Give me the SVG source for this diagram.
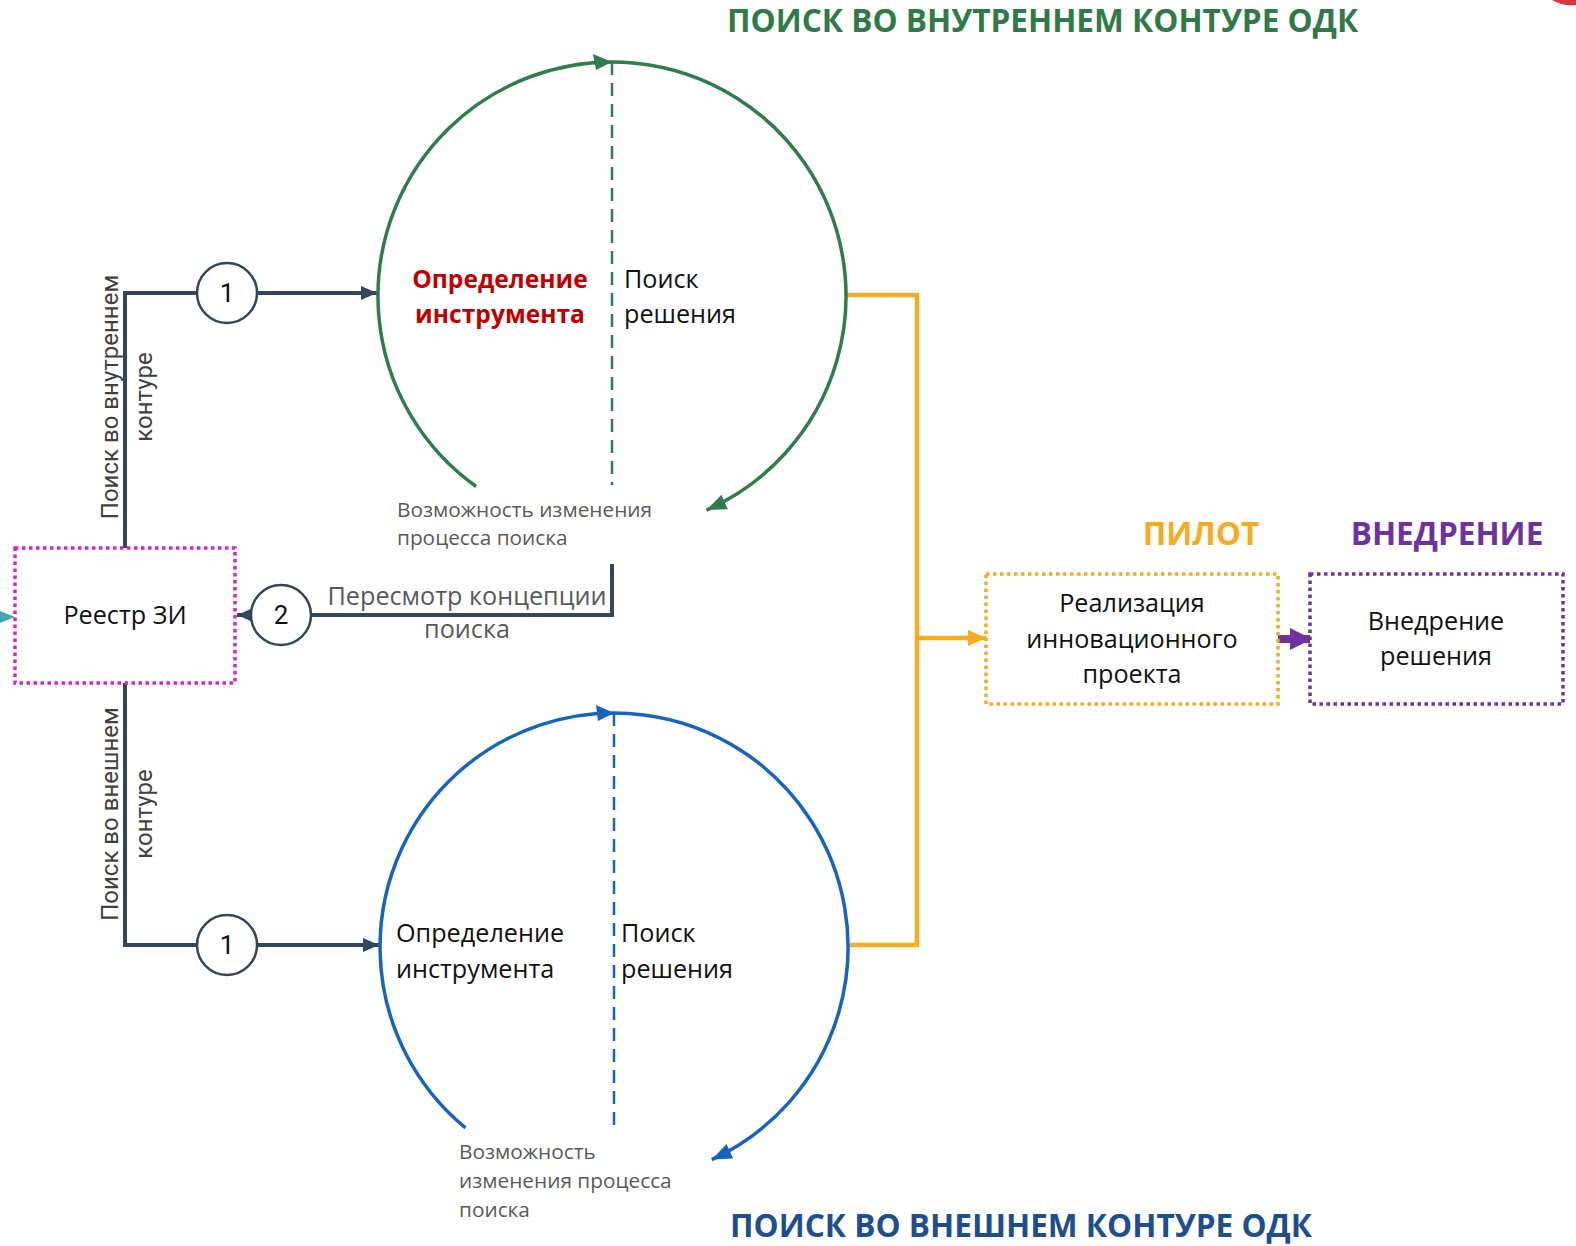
<svg xmlns="http://www.w3.org/2000/svg" width="1576" height="1246" viewBox="0 0 1576 1246">
<style>
text{font-family:"Open Sans","Liberation Sans",sans-serif;}
.t{font-size:25.2px;fill:#111;}
.g{font-size:20.8px;fill:#595959;}
.rot{font-family:Roboto,"Liberation Sans",sans-serif;font-size:24px;fill:#404040;}
.conn{fill:none;stroke:#34475A;stroke-width:4;}
.num{fill:#fff;stroke:#34475A;stroke-width:2.5;}
.numt{font-family:Roboto,"Liberation Sans",sans-serif;font-size:26px;fill:#111;text-anchor:middle;}
.box{fill:#fff;stroke-width:3.5;stroke-dasharray:3.5 3.5;}
.hd{font-weight:bold;font-size:31.6px;}
</style>
<defs>
<marker id="aS" markerUnits="userSpaceOnUse" markerWidth="16" markerHeight="16" refX="16" refY="8" orient="auto"><path d="M0,1 L16,8 L0,15 z" fill="#34475A"/></marker>
<marker id="aO" markerUnits="userSpaceOnUse" markerWidth="18" markerHeight="18" refX="18" refY="9" orient="auto"><path d="M0,1 L18,9 L0,17 z" fill="#F5AC1E"/></marker>
<marker id="aP" markerUnits="userSpaceOnUse" markerWidth="22" markerHeight="22" refX="22" refY="11" orient="auto"><path d="M0,0 L22,11 L0,22 z" fill="#7030A0"/></marker>
<marker id="aG" markerUnits="userSpaceOnUse" markerWidth="20" markerHeight="18" refX="20" refY="9" orient="auto"><path d="M0,1 L20,9 L0,17 z" fill="#2E7D4B"/></marker>
<marker id="aB" markerUnits="userSpaceOnUse" markerWidth="20" markerHeight="18" refX="20" refY="9" orient="auto"><path d="M0,1 L20,9 L0,17 z" fill="#1565C0"/></marker>
</defs>
<rect width="1576" height="1246" fill="#fff"/>
<path d="M1552,0 Q1564,7 1576,5 L1576,0 Z" fill="#D9363E"/>

<text x="727" y="32" class="hd" fill="#2F7A47">ПОИСК ВО ВНУТРЕННЕМ КОНТУРЕ ОДК</text>
<text x="730" y="1237" class="hd" fill="#1F4E8C">ПОИСК ВО ВНЕШНЕМ КОНТУРЕ ОДК</text>

<g id="connectors">
<path class="conn" d="M125,548 V293 H377" marker-end="url(#aS)"/>
<path class="conn" d="M125,683 V945 H379" marker-end="url(#aS)"/>
<path class="conn" d="M612,564 V615 H237" marker-end="url(#aS)"/>
<path d="M847,295 H917 V945 H850 M917,638 H986" fill="none" stroke="#F5AC1E" stroke-width="4.5" marker-end="url(#aO)"/>
<path d="M1278,639 H1312" fill="none" stroke="#7030A0" stroke-width="8" marker-end="url(#aP)"/>
<path d="M0,611 L15,617 L0,623 z" fill="#46A3B2"/>
</g>

<g id="inner-loop">
<path d="M476.1,486.5 A234,234 0 1 1 706.4,510.1" fill="none" stroke="#2E7D4B" stroke-width="3.5" marker-end="url(#aG)"/>
<path d="M593,54 L612,62 L596,70 z" fill="#2E7D4B"/>
<line x1="612" y1="62" x2="612" y2="485" stroke="#2E7D4B" stroke-width="2.5" stroke-dasharray="13 8"/>
<text x="500" y="288" font-size="24.6" font-weight="bold" fill="#C00000" text-anchor="middle">Определение</text>
<text x="500" y="323" font-size="24.6" font-weight="bold" fill="#C00000" text-anchor="middle">инструмента</text>
<text x="624" y="288" class="t">Поиск</text>
<text x="624" y="323" class="t">решения</text>
<text x="397" y="517" class="g">Возможность изменения</text>
<text x="397" y="545" class="g">процесса поиска</text>
</g>

<g id="outer-loop">
<path d="M465.5,1127.8 A234,234 0 1 1 711.8,1159.6" fill="none" stroke="#1565C0" stroke-width="3.5" marker-end="url(#aB)"/>
<path d="M596,705 L614,713 L598,721 z" fill="#1565C0"/>
<line x1="614" y1="713" x2="614" y2="1125" stroke="#1565C0" stroke-width="2.5" stroke-dasharray="13 8"/>
<text x="396" y="942" class="t">Определение</text>
<text x="396" y="978" class="t">инструмента</text>
<text x="621" y="942" class="t">Поиск</text>
<text x="621" y="978" class="t">решения</text>
<text x="459" y="1159" class="g">Возможность</text>
<text x="459" y="1188" class="g">изменения процесса</text>
<text x="459" y="1217" class="g">поиска</text>
</g>

<g id="label-inner">
<text transform="translate(118,397) rotate(-90)" class="rot" text-anchor="middle">Поиск во внутреннем</text>
<text transform="translate(152,397) rotate(-90)" class="rot" text-anchor="middle">контуре</text>
</g>
<g id="label-outer">
<text transform="translate(118,814) rotate(-90)" class="rot" text-anchor="middle">Поиск во внешнем</text>
<text transform="translate(152,814) rotate(-90)" class="rot" text-anchor="middle">контуре</text>
</g>

<g id="step1-top"><circle cx="227" cy="293" r="30" class="num"/><text x="227" y="302" class="numt">1</text></g>
<g id="step1-bottom"><circle cx="227" cy="945" r="30" class="num"/><text x="227" y="954" class="numt">1</text></g>
<g id="step2"><circle cx="281" cy="615" r="30" class="num"/><text x="281" y="624" class="numt">2</text></g>

<g id="revise-label">
<text x="467" y="605" font-size="25.2" fill="#595959" text-anchor="middle">Пересмотр концепции</text>
<text x="467" y="638" font-size="25.2" fill="#595959" text-anchor="middle">поиска</text>
</g>

<g id="registry">
<rect x="15" y="548" width="220" height="135" class="box" stroke="#E020C8"/>
<text x="125" y="624" class="t" text-anchor="middle">Реестр ЗИ</text>
</g>

<g id="pilot">
<text x="1201" y="545" class="hd" fill="#F5AC1E" text-anchor="middle">ПИЛОТ</text>
<rect x="986" y="574" width="292" height="130" class="box" stroke="#F5AC1E"/>
<text x="1132" y="612" class="t" text-anchor="middle">Реализация</text>
<text x="1132" y="648" class="t" text-anchor="middle">инновационного</text>
<text x="1132" y="683" class="t" text-anchor="middle">проекта</text>
</g>

<g id="implementation">
<text x="1447" y="545" class="hd" fill="#7030A0" text-anchor="middle">ВНЕДРЕНИЕ</text>
<rect x="1310" y="574" width="253" height="130" class="box" stroke="#7030A0"/>
<text x="1436" y="630" class="t" text-anchor="middle">Внедрение</text>
<text x="1436" y="665" class="t" text-anchor="middle">решения</text>
</g>
</svg>
